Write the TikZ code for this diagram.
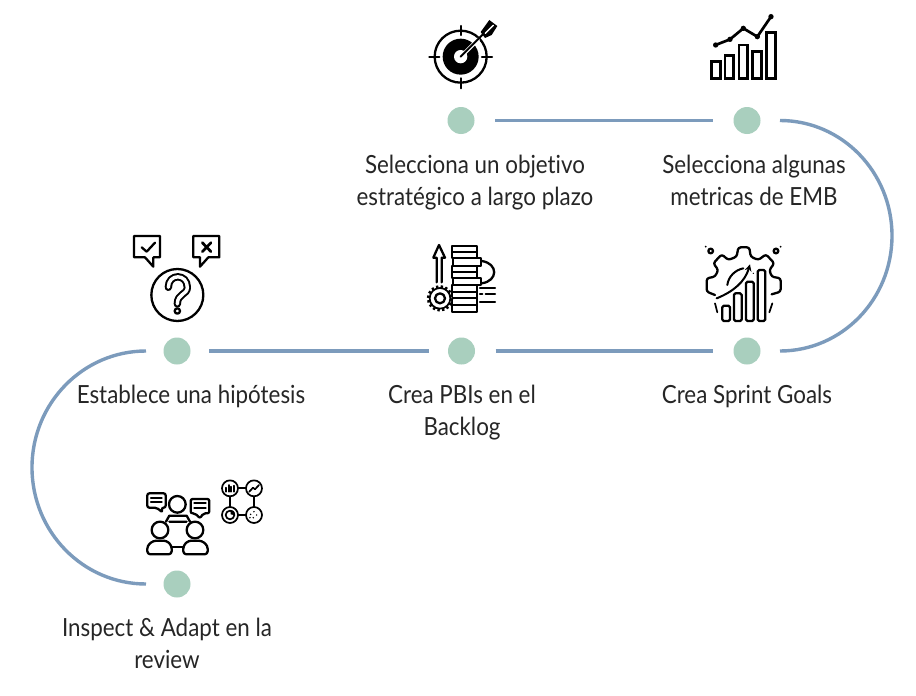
\documentclass[tikz,border=0pt]{standalone}
\usepackage{fontspec}
\setmainfont[FakeStretch=0.895,Ligatures=NoCommon]{Lato}
\usetikzlibrary{calc,positioning}
\definecolor{roadBlue}{HTML}{7C9BBC}
\definecolor{roadMint}{HTML}{A9CFBE}
\definecolor{roadInk}{HTML}{262626}
\begin{document}
\begin{tikzpicture}[x=1pt,y=-1pt,line cap=round,line join=round]
\tikzset{route/.style={draw=roadBlue,line width=3.4pt,line cap=butt},gap/.style={shorten >=20.5pt,shorten <=20.5pt},widegap/.style={shorten >=18.5pt,shorten <=18.5pt},dot/.style={circle,fill=roadMint,minimum size=27pt,inner sep=0pt},caption/.style={align=center,text=roadInk,font=\fontsize{25}{32}\selectfont,inner sep=0pt},glyph/.style={draw=black,line width=2.3pt},thinglyph/.style={draw=black,line width=1.7pt}}
\path[fill=white] (0,0) rectangle (916,696);
\node[dot] (objetivo) at (461,120.5) {};
\node[dot] (metricas) at (747,120.5) {};
\node[dot] (sprint) at (747,351) {};
\node[dot] (backlog) at (461.5,351) {};
\node[dot] (hipotesis) at (177,351) {};
\node[dot] (review) at (177,584) {};
\coordinate (curveA) at ([xshift=33pt]metricas.center);
\coordinate (curveB) at ([xshift=-31pt]hipotesis.center);
\draw[route,gap] (objetivo) -- (metricas);
\draw[route,gap] (backlog) -- (sprint);
\draw[route,widegap] (hipotesis) -- (backlog);
\draw[route] (curveA) arc[start angle=90,end angle=-90,x radius=112pt,y radius=115.25pt];
\draw[route] (curveB) arc[start angle=90,end angle=270,x radius=114pt,y radius=116.5pt];
\node[caption] (objetivoText) at (475,183) {Selecciona un objetivo\\estratégico a largo plazo};
\node[caption] (metricasText) at (754,180) {Selecciona algunas\\metricas de EMB};
\node[caption] (sprintText) at (747,396) {Crea Sprint Goals};
\node[caption] (backlogText) at (462,413) {Crea PBIs en el\\Backlog};
\node[caption] (hipotesisText) at (191,396) {Establece una hipótesis};
\node[caption] (reviewText) at (167,643) {Inspect \& Adapt en la\\review};
\begin{scope}[shift={(410,10)},x=.3333pt,y=-.3333pt]
\draw[glyph] (152,140) circle (78);
\fill (152,140) circle (54);
\fill[white] (152,140) circle (20);
\draw[glyph] (152,48) -- (152,75) (152,205) -- (152,235) (58,140) -- (88,140) (216,140) -- (246,140);
\draw[white,line width=3.8pt] (165,128) -- (205,88);
\draw[black,line width=2pt] (152,140) -- (222,70);
\fill (212,66) -- (238,30) -- (262,48) -- (245,75) -- (225,84) -- cycle;
\draw[white,line width=1.3pt] (226,70) -- (250,46);
\end{scope}
\begin{scope}[shift={(695,5)},x=.3333pt,y=-.3333pt]
\foreach \barX/\barTop in {50/170,90/152,132/120,173/140,215/82} \draw[glyph,line width=2.7pt,line join=miter] (\barX,220) rectangle ++(26,\barTop-220);
\draw[glyph,line width=2.7pt] (62,120) -- (105,103) -- (145,70) -- (187,95) -- (228,35);
\foreach \ptX/\ptY in {62/120,105/103,145/70,187/95,228/35} \fill (\ptX,\ptY) circle (8);
\end{scope}
\begin{scope}[shift={(690,235)},x=.3333pt,y=-.3333pt]
\draw[glyph,rounded corners=2.5pt] (75,180) -- (50,170) -- (50,130) -- (75,125) -- (85,105) -- (70,85) -- (95,58) -- (115,75) -- (140,65) -- (145,37) -- (178,37) -- (182,65) -- (205,75) -- (228,58) -- (253,85) -- (238,105) -- (245,125) -- (272,130) -- (272,170) -- (245,178);
\draw[thinglyph] (75,205) -- (82,232) (247,205) -- (238,232);
\foreach \barX/\barTop in {97/212,132/175,168/140,203/105} \draw[glyph,rounded corners=1.5pt] (\barX,258) rectangle ++(23,\barTop-258);
\draw[glyph,line width=2pt,-stealth] (80,190) .. controls (130,170) and (165,140) .. (180,88);
\draw[glyph,line width=2pt] (112,150) .. controls (115,125) and (135,105) .. (160,100);
\draw[glyph] (62,48) circle (7) (258,48) circle (7);
\fill (47,35) circle (3) (272,35) circle (3) (190,115) circle (2);
\end{scope}
\begin{scope}[shift={(415,235)},x=.3333pt,y=-.3333pt]
\draw[glyph] (112,32) rectangle (185,70) (112,50) -- (185,50);
\draw[glyph] (115,70) rectangle (197,92);
\draw[glyph] (112,92) rectangle (185,130) (112,112) -- (185,112);
\draw[glyph] (115,130) rectangle (197,150);
\draw[glyph] (112,150) rectangle (185,230) (112,172) -- (185,172) (112,190) -- (185,190) (112,210) -- (185,210);
\draw[glyph] (65,142) -- (65,68) -- (55,68) -- (72,30) -- (90,68) -- (80,68) -- (80,142);
\fill[white] (75,190) circle (35);
\draw[glyph,line width=3.2pt,dash pattern=on 2.4pt off 2.2pt,line cap=butt] (75,190) circle (35);
\fill[white] (75,190) circle (30);
\draw[thinglyph] (75,190) circle (31);
\draw[glyph] (75,190) circle (15);
\end{scope}
\begin{scope}[shift={(415,235)},x=.3333pt,y=-.3333pt]
\draw[glyph] (200,78) .. controls (250,85) and (250,138) .. (200,145);
\draw[glyph] (195,160) -- (240,160) (195,178) -- (202,178) (212,178) -- (240,178) (195,200) -- (240,200);
\end{scope}
\begin{scope}[shift={(125,230)},x=.3333pt,y=-.3333pt]
\draw[glyph] (60,82) -- (27,82) -- (27,18) -- (105,18) -- (105,82) -- (85,82) -- (85,110) -- cycle;
\draw[glyph] (50,52) -- (65,65) -- (90,38);
\draw[glyph] (225,110) -- (225,82) -- (205,82) -- (205,18) -- (283,18) -- (283,82) -- (250,82) -- cycle;
\draw[glyph,line width=2.7pt] (232,38) -- (258,65) (258,38) -- (232,65);
\draw[glyph] (157,195) circle (78);
\draw[black,line width=7.4pt] (130,172) .. controls (130,130) and (187,130) .. (187,172) .. controls (187,195) and (157,190) .. (157,222);
\draw[white,line width=3.4pt] (130,172) .. controls (130,130) and (187,130) .. (187,172) .. controls (187,195) and (157,190) .. (157,222);
\draw[glyph] (157,243) circle (8);
\end{scope}
\begin{scope}[shift={(135,475)},x=.3333pt,y=-.3333pt]
\draw[glyph] (127,88) circle (25) (75,165) circle (25) (180,165) circle (25);
\draw[glyph,rounded corners=2pt] (65,98) -- (37,98) -- (37,55) -- (92,55) -- (92,98) -- (80,98) -- (82,112) -- cycle;
\draw[glyph] (48,68) -- (80,68) (48,82) -- (80,82);
\draw[glyph,rounded corners=2pt] (180,115) -- (167,115) -- (167,72) -- (223,72) -- (223,115) -- (205,115) -- (195,130) -- cycle;
\draw[glyph] (178,85) -- (212,85) (178,100) -- (212,100);
\draw[glyph] (93,140) -- (103,122) -- (155,122) -- (165,140) (103,140) -- (155,140);
\draw[glyph,rounded corners=3pt] (37,238) -- (37,212) -- (55,197) -- (95,197) -- (110,212) -- (110,238) -- cycle;
\draw[glyph,rounded corners=3pt] (145,238) -- (145,212) -- (160,197) -- (200,197) -- (218,212) -- (218,238) -- cycle;
\draw[glyph] (110,215) -- (145,215);
\draw[thinglyph] (285,40) circle (24) (357,40) circle (24) (285,120) circle (24) (357,120) circle (24);
\draw[thinglyph] (309,40) -- (333,40) (309,120) -- (333,120) (285,64) -- (285,96) (357,64) -- (357,96);
\draw[thinglyph] (273,50) -- (273,38) (281,50) -- (281,30) (289,50) -- (289,35) (297,50) -- (297,32);
\draw[thinglyph] (343,50) -- (354,38) -- (360,43) -- (372,30);
\draw[thinglyph] (285,120) circle (13);
\fill (287,118) -- (287,105) arc[start angle=90,end angle=-10,radius=4.5pt] -- cycle;
\fill (347,118) circle (2.5) (357,110) circle (2.5) (365,120) circle (2.5) (355,128) circle (2.5) (345,128) circle (2.5);
\end{scope}
\end{tikzpicture}
\end{document}
